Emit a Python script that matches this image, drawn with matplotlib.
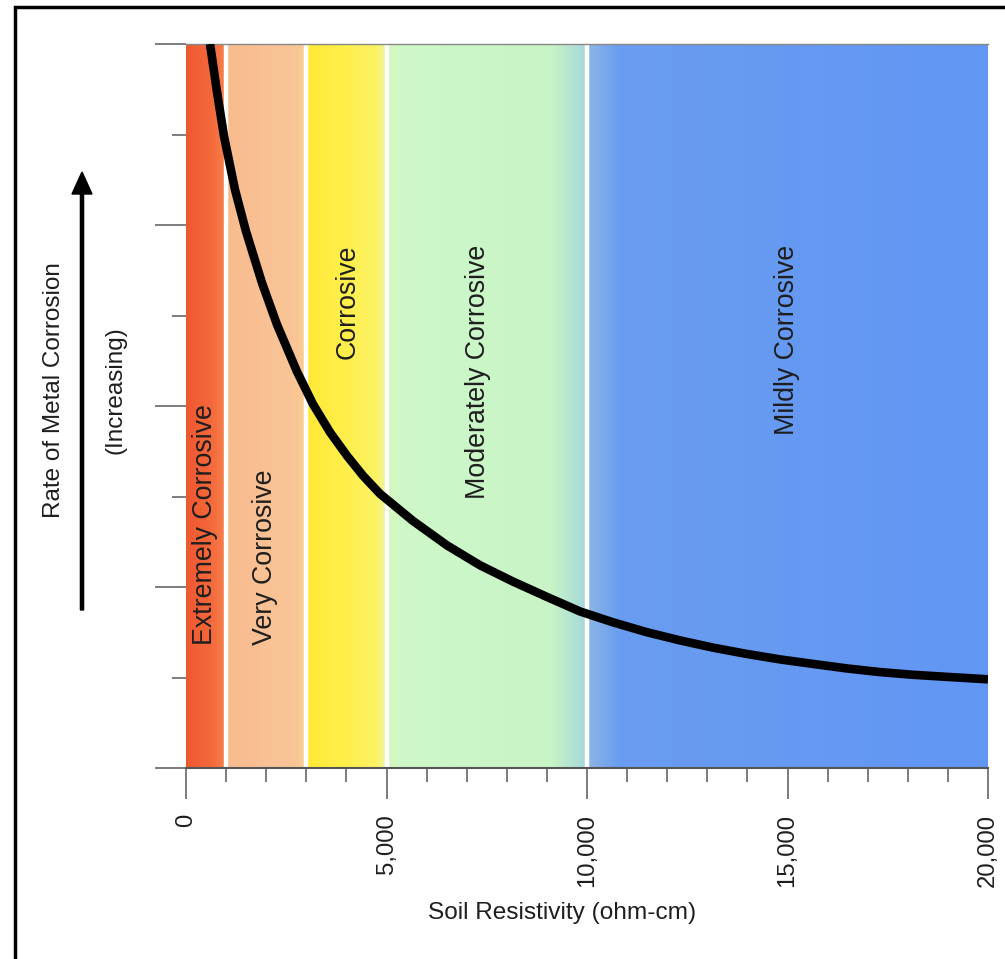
import numpy as np
import matplotlib
matplotlib.use('Agg')
import matplotlib.pyplot as plt
from matplotlib.colors import LinearSegmentedColormap
from matplotlib.patches import Rectangle, FancyArrow

plt.rcParams['font.family'] = ['Liberation Sans', 'DejaVu Sans']

# soil resistivity bands (ohm-cm)
band_edges = [0, 1000, 3000, 5000, 10000, 20000]
band_labels = ['Extremely Corrosive', 'Very Corrosive', 'Corrosive',
               'Moderately Corrosive', 'Mildly Corrosive']

# corrosion rate curve
resistivity = [599, 773, 948, 1222, 1496, 1895, 2269, 2768, 3167, 3591, 4015,
               4414, 4838, 5661, 6509, 7332, 8155, 9003, 9825, 10648, 11496,
               12319, 13142, 13990, 14813, 15636, 16484, 17306, 18130, 19050,
               20000]
rate = [8.0, 7.47, 6.98, 6.39, 5.93, 5.36, 4.90, 4.38, 4.02, 3.71, 3.45,
        3.23, 3.03, 2.73, 2.46, 2.24, 2.06, 1.89, 1.73, 1.61, 1.50,
        1.41, 1.33, 1.26, 1.20, 1.15, 1.10, 1.06, 1.03, 1.005,
        0.98]

x_major = [0, 5000, 10000, 15000, 20000]
x_major_labels = ['0', '5,000', '10,000', '15,000', '20,000']

# colour stops inside each band
band_stops = [
    [(0, '#EE5831'), (0.6, '#F4683A'), (1, '#F7824D')],
    [(0, '#F8BB8E'), (0.5, '#F9C194'), (0.9, '#FAC696'), (1, '#FDD48C')],
    [(0, '#FFE836'), (0.5, '#FFEF4C'), (0.88, '#FBF366'), (1, '#EAF6A8')],
    [(0, '#D6F7BE'), (0.08, '#CEF8C8'), (0.82, '#C8F4C6'), (1, '#A4D6DC')],
    [(0, '#8CB6E4'), (0.08, '#6A9DF0'), (1, '#6196F4')],
]

fig = plt.figure(figsize=(10.05, 9.59), dpi=100)
ax = fig.add_axes([186/1005, 191/959, 802/1005, 724/959])

grad = np.linspace(0, 1, 256).reshape(1, -1)
for i in range(len(band_labels)):
    cmap = LinearSegmentedColormap.from_list('b%d' % i, band_stops[i])
    ax.imshow(grad, cmap=cmap, aspect='auto', interpolation='bilinear',
              extent=(band_edges[i], band_edges[i+1], 0, 8), zorder=0)

for e in band_edges[1:-1]:
    ax.axvline(e, color='white', lw=3.2, zorder=1)

ax.plot(resistivity, rate, color='black', lw=6.2, solid_capstyle='butt',
        solid_joinstyle='round', zorder=3)

ax.set_xlim(0, 20000)
ax.set_ylim(0, 8)

txt = dict(rotation=90, ha='center', fontsize=19.3, color='#1e1e1e', zorder=4)
ax.text(480, 1.36, band_labels[0], va='bottom', **txt)
ax.text(1970, 1.36, band_labels[1], va='bottom', **txt)
ax.text(4040, 5.78, band_labels[2], va='top', **txt)
ax.text(7280, 5.78, band_labels[3], va='top', **txt)
ax.text(14990, 5.78, band_labels[4], va='top', **txt)

for s in ['left', 'right']:
    ax.spines[s].set_visible(False)
ax.spines['top'].set_color('#888888')
ax.spines['top'].set_linewidth(1.0)
ax.spines['bottom'].set_color('#555555')
ax.spines['bottom'].set_linewidth(1.5)

ax.set_xticks(x_major)
ax.set_xticklabels(x_major_labels, rotation=90, fontsize=17.2, color='#1e1e1e')
ax.set_xticks(range(1000, 20000, 1000), minor=True)
ax.tick_params(axis='x', which='major', length=22, width=1.2, color='#666666', pad=11)
ax.tick_params(axis='x', which='minor', length=10, width=1.2, color='#666666')

ax.set_yticks([0, 2, 4, 6, 8])
ax.set_yticks([1, 3, 5, 7], minor=True)
ax.set_yticklabels([])
ax.tick_params(axis='y', which='major', length=22, width=1.2, color='#666666')
ax.tick_params(axis='y', which='minor', length=10, width=1.2, color='#666666')

fig.text(562/1005, 1 - 913/959, 'Soil Resistivity (ohm-cm)',
         ha='center', va='center', fontsize=17.6, color='#1e1e1e')
fig.text(54/1005, 1 - 390/959, 'Rate of Metal Corrosion', rotation=90,
         ha='center', va='center', fontsize=17.5, color='#1e1e1e')
fig.text(115/1005, 1 - 390/959, '(Increasing)', rotation=90,
         ha='center', va='center', fontsize=17.5, color='#1e1e1e')

fig.patches.append(FancyArrow(
    82/1005, 1 - 610/959, 0, (610 - 172)/959, width=3/959,
    head_width=20/1005, head_length=22/959, length_includes_head=True,
    color='black', transform=fig.transFigure, figure=fig))

fig.patches.append(Rectangle((15/1005, -0.1), 1.2, 0.1 + 1 - 7/959, fill=False,
                             edgecolor='black', lw=2.5, transform=fig.transFigure,
                             figure=fig))

fig.savefig('out.png', dpi=100)
